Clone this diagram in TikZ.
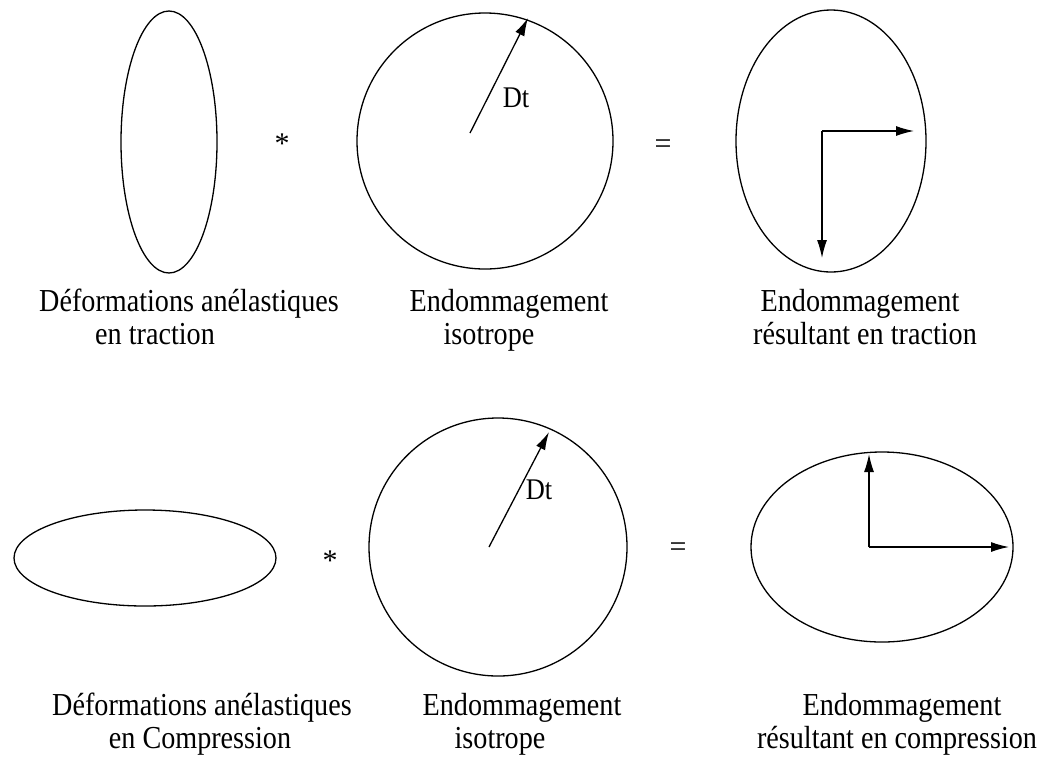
\documentclass[tikz,border=0pt]{standalone}
\usepackage{fontspec}
\setmainfont{Liberation Serif}
\usetikzlibrary{arrows.meta}
\newcommand{\narrowtxt}[1]{\scalebox{0.88}[1]{#1}}
\begin{document}
\begin{tikzpicture}[x=1pt,y=-1pt,
  shape line/.style={line width=1.3pt},
  vec/.style={line width=1.3pt,-{Latex[length=18pt,width=10pt]}},
  lbl/.style={inner sep=0pt,anchor=base,font=\fontsize{32}{36}\selectfont},
  op/.style={inner sep=0pt,font=\fontsize{30}{33}\selectfont}]
\useasboundingbox (0,0) rectangle (1040,756);
% top row
\draw[shape line] (169,142) ellipse [x radius=48, y radius=131];
\node[op] (star1) at (282,144) {*};
\draw[shape line] (485,141) circle [radius=128];
\coordinate (c1) at (470,133);
\coordinate (r1) at (528,18);
\draw[vec] (c1) -- (r1);
\node[op] (dt1) at (516,98) {\narrowtxt{Dt}};
\node[op] (eq1) at (663,147) {=};
\draw[shape line] (831,141) ellipse [x radius=95, y radius=131];
\coordinate (o1) at (822,131);
\coordinate (e1) at (914,131);
\coordinate (s1) at (822,258);
\draw[vec] (o1) -- (e1);
\draw[vec] (o1) -- (s1);
\node[lbl] (t11) at (189,311) {\narrowtxt{Déformations anélastiques}};
\node[lbl] (t12) at (155,344) {\narrowtxt{en traction}};
\node[lbl] (t21) at (509,311) {\narrowtxt{Endommagement}};
\node[lbl] (t22) at (489,344) {\narrowtxt{isotrope}};
\node[lbl] (t31) at (860,311) {\narrowtxt{Endommagement}};
\node[lbl] (t32) at (865,344) {\narrowtxt{résultant en traction}};
% bottom row
\draw[shape line] (145,558) ellipse [x radius=131, y radius=48];
\node[op] (star2) at (330,561) {*};
\draw[shape line] (498,547) circle [radius=129];
\coordinate (c2) at (489,547);
\coordinate (r2) at (549,432);
\draw[vec] (c2) -- (r2);
\node[op] (dt2) at (539,490) {\narrowtxt{Dt}};
\node[op] (eq2) at (678,550) {=};
\draw[shape line] (882,547) ellipse [x radius=131, y radius=95];
\coordinate (o2) at (869,547);
\coordinate (n2) at (869,454);
\coordinate (e2) at (1009,547);
\draw[vec] (o2) -- (n2);
\draw[vec] (o2) -- (e2);
\node[lbl] (b11) at (202,715) {\narrowtxt{Déformations anélastiques}};
\node[lbl] (b12) at (200,748) {\narrowtxt{en Compression}};
\node[lbl] (b21) at (522,715) {\narrowtxt{Endommagement}};
\node[lbl] (b22) at (500,748) {\narrowtxt{isotrope}};
\node[lbl] (b31) at (902,715) {\narrowtxt{Endommagement}};
\node[lbl] (b32) at (897,748) {\narrowtxt{résultant en compression}};
\end{tikzpicture}
\end{document}
